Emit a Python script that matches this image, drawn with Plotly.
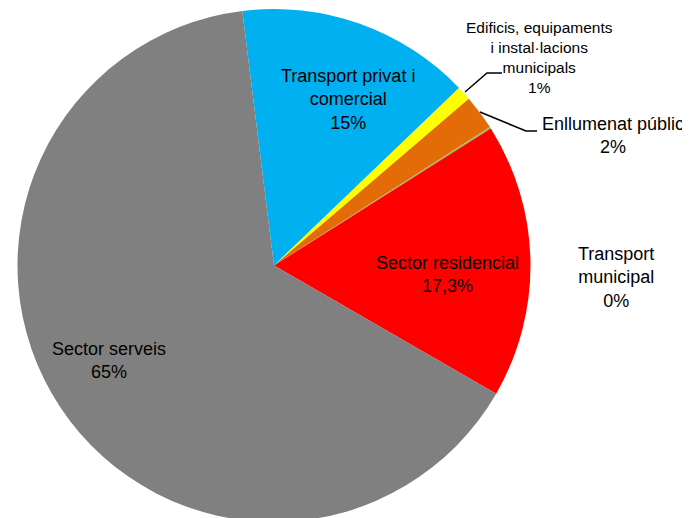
import plotly.graph_objects as go

# ---- data ----
categories = ["Transport privat i comercial",
              "Edificis, equipaments i instal·lacions municipals",
              "Enllumenat públic",
              "Transport municipal",
              "Sector residencial",
              "Sector serveis"]
label_lines = ["Transport privat i<br>comercial",
               "Edificis, equipaments<br>i instal·lacions<br>municipals",
               "Enllumenat públic",
               "Transport<br>municipal",
               "Sector residencial",
               "Sector serveis"]
values = [14.8, 0.9, 2.2, 0.1, 17.3, 64.7]
pct_text = ["15%", "1%", "2%", "0%", "17,3%", "65%"]
colors = ["#00B0F0", "#FFFF00", "#E36C09", "#9BBB59", "#FF0000", "#808080"]

# page body has an 8px margin; work in window pixels and convert
OFF = 8
W, H = 682, 514
FONT = "Liberation Sans, Arial, sans-serif"

fig = go.Figure(go.Pie(
    labels=categories,
    values=values,
    sort=False,
    direction="clockwise",
    rotation=-7.1,
    marker=dict(colors=colors, line=dict(width=0)),
    textinfo="none",
    showlegend=False,
    domain=dict(x=[0, 532 / W], y=[0, 1]),
))

# label placement (window pixel positions)
label_pos = [(348, 100, 18), (539, 57, 15.5), (613, 136, 18),
             (616, 277, 18), (447, 274, 18), (109, 360, 18)]


def px2paper(px, py):
    return (px - OFF) / W, 1 - (py - OFF - 1) / (H - 1)


annotations = []
for lines, pct, (px, py, fs) in zip(label_lines, pct_text, label_pos):
    x, y = px2paper(px, py)
    annotations.append(dict(
        x=x, y=y, xref="paper", yref="paper",
        text=f"{lines}<br>{pct}", showarrow=False,
        xanchor="center", yanchor="middle", align="center",
        font=dict(family=FONT, size=fs, color="#000000"),
    ))


def p(px, py):
    x, y = px2paper(px, py)
    return f"{x:.5f} {y:.5f}"


shapes = [
    dict(type="path", xref="paper", yref="paper",
         path=f"M {p(465, 92)} L {p(487, 73)} L {p(502, 73)}",
         line=dict(color="black", width=1.5)),
    dict(type="path", xref="paper", yref="paper",
         path=f"M {p(480, 112)} L {p(526, 131)} L {p(537, 131)}",
         line=dict(color="black", width=1.5)),
]

fig.update_layout(
    width=W, height=H,
    margin=dict(l=0, r=0, t=1, b=0),
    paper_bgcolor="white", plot_bgcolor="white",
    annotations=annotations, shapes=shapes,
    font=dict(family=FONT),
)

fig.write_html("out.html")
